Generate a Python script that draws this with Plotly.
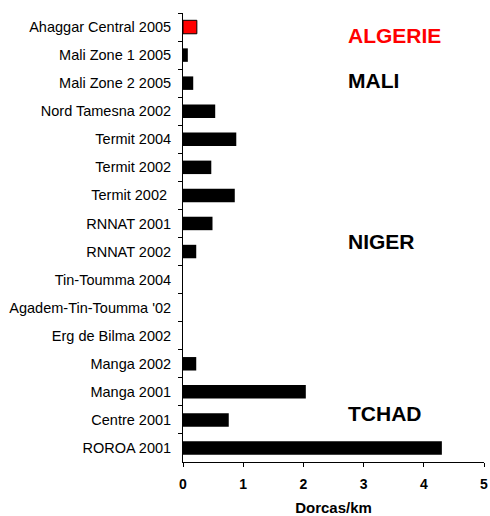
import plotly.graph_objects as go

categories = [
    "Ahaggar Central 2005", "Mali Zone 1 2005", "Mali Zone 2 2005",
    "Nord Tamesna 2002", "Termit 2004", "Termit 2002", "Termit 2002 ",
    "RNNAT 2001", "RNNAT 2002", "Tin-Toumma 2004", "Agadem-Tin-Toumma '02",
    "Erg de Bilma 2002", "Manga 2002", "Manga 2001", "Centre 2001", "ROROA 2001",
]
values = [0.23, 0.08, 0.17, 0.535, 0.885, 0.47, 0.86, 0.49, 0.22, 0, 0, 0,
          0.22, 2.04, 0.76, 4.30]
bar_colors = ["#ff0000"] + ["#000000"] * 15
line_widths = [1] + [0] * 15

country_labels = ["ALGERIE", "MALI", "NIGER", "TCHAD"]
country_colors = ["#ff0000", "#000000", "#000000", "#000000"]
country_y = [0.951, 0.8486, 0.492, 0.1076]

x_ticks = [0, 1, 2, 3, 4, 5]

FONT = "Liberation Sans, Arial, sans-serif"

fig = go.Figure(go.Bar(
    x=values, y=categories, orientation="h",
    marker=dict(color=bar_colors, line=dict(color="#000000", width=line_widths)),
    width=0.48,
))

for t, c, yy in zip(country_labels, country_colors, country_y):
    fig.add_annotation(text=f"<b>{t}</b>", xref="paper", yref="paper",
                       x=0.54, y=yy, xanchor="left", yanchor="middle",
                       showarrow=False, font=dict(family=FONT, size=21, color=c))

fig.update_layout(
    width=490, height=516,
    margin=dict(l=183, r=6, t=13, b=54),
    paper_bgcolor="white", plot_bgcolor="white",
    showlegend=False,
    font=dict(family=FONT, color="#000000"),
    xaxis=dict(range=[0, 5], tickvals=x_ticks, showgrid=False, zeroline=False,
               automargin=False,
               showline=True, linecolor="#000000", linewidth=1,
               ticks="outside", ticklen=4, tickcolor="#000000",
               ticklabelstandoff=5,
               tickfont=dict(family=FONT, size=14, color="#000000", weight="bold"),
               title=dict(text="<b>Dorcas/km</b>", font=dict(family=FONT, size=15), standoff=21)),
    yaxis=dict(type="category", categoryorder="array", categoryarray=categories,
               autorange="reversed", showgrid=False, zeroline=False,
               automargin=False,
               showline=True, linecolor="#000000", linewidth=1,
               ticks="outside", ticklen=4, tickcolor="#000000", tickson="boundaries",
               tickfont=dict(family=FONT, size=14.5, color="#000000"),
               ticklabelstandoff=8),
)

fig.write_html(
    "out.html",
    config={"displayModeBar": False},
    post_script="document.body.style.margin='0';document.body.style.overflow='hidden';",
)
